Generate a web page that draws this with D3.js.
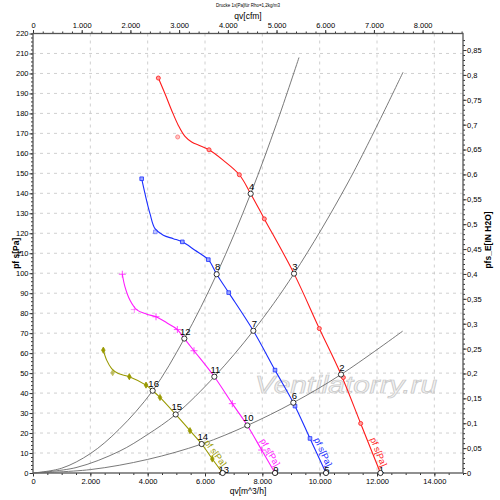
<!DOCTYPE html>
<html>
<head>
<meta charset="utf-8">
<script src="https://cdn.jsdelivr.net/npm/d3@7"></script>
<style>
    body { margin: 0; background: #fff; }
    text { font-family: "Liberation Sans", Arial, sans-serif; }
</style>
</head>
<body>
<div id="chart"></div>
<script>
/* * * * * * * * * * * * * *
 *   fan curve data        *
 * * * * * * * * * * * * * */

// tick labels
const qvTicks = [0, 2000, 4000, 6000, 8000, 10000, 12000, 14000];
const cfmTicks = [0, 1000, 2000, 3000, 4000, 5000, 6000, 7000, 8000];
const paTicks = [0, 10, 20, 30, 40, 50, 60, 70, 80, 90, 100, 110, 120, 130, 140, 150, 160, 170, 180, 190, 200, 210, 220];
const inchTicks = [0, 0.05, 0.1, 0.15, 0.2, 0.25, 0.3, 0.35, 0.4, 0.45, 0.5, 0.55, 0.6, 0.65, 0.7, 0.75, 0.8, 0.85];

// fan curves (line) qv [m^3/h], pf s [Pa]
const redLineQv = [4372, 4605, 4838, 5070, 5302, 5535, 5826, 6140, 6640, 7198, 7593, 8070, 9105, 9988, 10744, 11430, 12120];
const redLinePa = [197.7, 189.8, 181.5, 174, 168.5, 165.7, 163.8, 161.8, 156.5, 149.3, 139.8, 127.2, 99.8, 72.3, 49.3, 24.8, 0];
const blueLineQv = [3791, 3907, 4081, 4256, 4546, 4895, 5209, 5651, 6116, 6407, 6826, 7686, 8442, 9081, 9663, 10221];
const blueLinePa = [147.3, 139.8, 129.8, 122.3, 119, 117.3, 115.7, 111.5, 106.8, 99.5, 90.3, 71.2, 51.5, 35.2, 17.3, 0];
const magentaLineQv = [3116, 3209, 3384, 3617, 3966, 4291, 4663, 5035, 5279, 5616, 6326, 6953, 7477, 7977, 8442];
const magentaLinePa = [99.5, 93.2, 86.5, 81.8, 79.5, 78.2, 75.2, 71.8, 67.3, 61.2, 48.2, 34.7, 23.8, 11.5, 0];
const oliveLineQv = [2453, 2570, 2744, 2977, 3360, 3942, 4174, 4430, 4977, 5477, 5884, 6256, 6616];
const oliveLinePa = [61.5, 56.5, 52.3, 49.8, 48.2, 44, 41.2, 37.8, 29.3, 21.2, 14.5, 7, 0];

// measured points
const redMeasQv = [4372, 5047, 6140, 7198, 8070, 9988, 10826, 11430];
const redMeasPa = [197.7, 168.2, 161.8, 149.3, 127.2, 72.3, 47.8, 24.8];
const blueMeasQv = [3791, 4267, 5209, 6116, 6826, 8442, 9140, 9663];
const blueMeasPa = [147.3, 120.7, 115.7, 106.8, 90.3, 51.5, 33.5, 17.3];
const magentaMeasQv = [3116, 3535, 4291, 5035, 5616, 6953, 7977];
const magentaMeasPa = [99.5, 81.8, 78.2, 71.8, 61.2, 34.7, 11.5];
const oliveMeasQv = [2453, 2779, 3360, 3942, 4430, 5477, 6256];
const oliveMeasPa = [61.5, 50.2, 48.2, 44, 37.8, 21.2, 7];

// system curves
const sys1Qv = [0, 1000, 2000, 3000, 4174, 5279, 6407, 7593, 8500, 9279];
const sys1Pa = [0, 2.4, 9.7, 21.8, 41.2, 67.3, 99.5, 139.8, 175, 208];
const sys2Qv = [0, 1500, 3000, 4000, 4977, 6326, 7686, 9105, 11000, 12907];
const sys2Pa = [0, 2.7, 10.8, 19.3, 29.3, 48.2, 71.2, 99.8, 145.7, 200.6];
const sys3Qv = [0, 2000, 4000, 5884, 7477, 9081, 10744, 12895];
const sys3Pa = [0, 1.7, 6.8, 14.5, 23.8, 35.2, 49.3, 71];

// operating points
const opLabels = ['1', '2', '3', '4', '5', '6', '7', '8', '9', '10', '11', '12', '13', '14', '15', '16'];
const opQv = [12120, 10744, 9105, 7593, 10221, 9081, 7686, 6407, 8442, 7477, 6326, 5279, 6616, 5884, 4977, 4174];
const opPa = [0, 49.3, 99.8, 139.8, 0, 35.2, 71.2, 99.5, 0, 23.8, 48.2, 67.3, 0, 14.5, 29.3, 41.2];

const zip = (xs, ys) => xs.map((v, i) => ({ qv: v, pa: ys[i] }));


class FanChart {
    constructor(parentElement) {
        this.parentElement = parentElement;
        this.initVis();
    }

    initVis() {
        let vis = this;

        vis.box = { left: 33, right: 463, top: 33.5, bottom: 473 };

        vis.svg = d3.select('#' + vis.parentElement)
            .append('svg')
            .attr('width', 500)
            .attr('height', 500);

        vis.x = d3.scaleLinear().domain([0, 15000]).range([vis.box.left, vis.box.right]);
        vis.y = d3.scaleLinear().domain([0, 220]).range([vis.box.bottom, vis.box.top]);
        // secondary units: 1 cfm = 1.69901 m^3/h, 1 in H2O = 249.089 Pa
        vis.xTop = d3.scaleLinear().domain([0, 15000 / 1.69901]).range(vis.x.range());
        vis.yRight = d3.scaleLinear().domain([0, 220 / 249.089]).range(vis.y.range());

        vis.locale = d3.formatLocale({ decimal: ',', thousands: '.', grouping: [3], currency: ['', ''] });

        vis.line = d3.line()
            .x(d => vis.x(d.qv))
            .y(d => vis.y(d.pa))
            .curve(d3.curveCatmullRom);

        vis.drawGrid();
        vis.drawWatermark();
        vis.drawAxes();
        vis.drawCurves();
        vis.drawTitles();
    }

    drawGrid() {
        let vis = this;
        let g = vis.svg.append('g').attr('class', 'grid')
            .attr('stroke', '#c4c4c4').attr('stroke-width', 0.8).attr('stroke-dasharray', '3,4');

        g.selectAll('.hgrid').data(paTicks.slice(1, -1)).enter()
            .append('line')
            .attr('x1', vis.box.left).attr('x2', vis.box.right)
            .attr('y1', d => vis.y(d)).attr('y2', d => vis.y(d));

        g.selectAll('.vgrid').data(qvTicks.slice(1)).enter()
            .append('line')
            .attr('y1', vis.box.top).attr('y2', vis.box.bottom)
            .attr('x1', d => vis.x(d)).attr('x2', d => vis.x(d));
    }

    drawWatermark() {
        let vis = this;
        vis.svg.append('text')
            .attr('x', 255).attr('y', 393)
            .attr('font-size', 23)
            .attr('font-style', 'italic')
            .attr('textLength', 182)
            .attr('lengthAdjust', 'spacingAndGlyphs')
            .attr('fill', '#f2f2f2')
            .attr('stroke', '#c8c8c8')
            .attr('stroke-width', 0.7)
            .text('Ventilatorry.ru');
    }

    styleAxis(g) {
        g.select('.domain').remove();
        g.selectAll('.tick line').attr('stroke', '#333');
        g.selectAll('.tick text').attr('font-size', 7.5).attr('fill', '#000')
            .attr('font-family', '"Liberation Sans", Arial, sans-serif');
    }

    drawAxes() {
        let vis = this;
        const fmtThousand = vis.locale.format(',');
        const fmtInch = vis.locale.format('.2~f');

        // minor ticks
        const minor = (axis, values) => vis.svg.append('g')
            .call(axis.tickValues(values).tickSize(2).tickFormat(''))
            .call(g => vis.styleAxis(g));

        minor(d3.axisLeft(vis.y), d3.range(0, 221, 2)).attr('transform', `translate(${vis.box.left},0)`);
        minor(d3.axisRight(vis.yRight), d3.range(0, 0.88, 0.01)).attr('transform', `translate(${vis.box.right},0)`);
        minor(d3.axisBottom(vis.x), d3.range(0, 15001, 500)).attr('transform', `translate(0,${vis.box.bottom})`);
        minor(d3.axisTop(vis.xTop), d3.range(0, 8801, 200)).attr('transform', `translate(0,${vis.box.top})`);

        vis.svg.append('g')
            .attr('transform', `translate(${vis.box.left},0)`)
            .call(d3.axisLeft(vis.y).tickValues(paTicks).tickSize(3.5).tickPadding(1))
            .call(g => vis.styleAxis(g));

        vis.svg.append('g')
            .attr('transform', `translate(${vis.box.right},0)`)
            .call(d3.axisRight(vis.yRight).tickValues(inchTicks).tickSize(3.5).tickPadding(0.5).tickFormat(fmtInch))
            .call(g => vis.styleAxis(g));

        vis.svg.append('g')
            .attr('transform', `translate(0,${vis.box.bottom})`)
            .call(d3.axisBottom(vis.x).tickValues(qvTicks).tickSize(3.5).tickPadding(2.5).tickFormat(fmtThousand))
            .call(g => vis.styleAxis(g));

        vis.svg.append('g')
            .attr('transform', `translate(0,${vis.box.top})`)
            .call(d3.axisTop(vis.xTop).tickValues(cfmTicks).tickSize(3.5).tickPadding(2.5).tickFormat(fmtThousand))
            .call(g => vis.styleAxis(g));

        // frame
        vis.svg.append('rect')
            .attr('x', vis.box.left).attr('y', vis.box.top)
            .attr('width', vis.box.right - vis.box.left)
            .attr('height', vis.box.bottom - vis.box.top)
            .attr('fill', 'none')
            .attr('stroke', '#555')
            .attr('stroke-width', 1.3);
    }

    drawCurves() {
        let vis = this;

        const systems = [zip(sys1Qv, sys1Pa), zip(sys2Qv, sys2Pa), zip(sys3Qv, sys3Pa)];
        vis.svg.append('g').selectAll('.sys').data(systems).enter()
            .append('path')
            .attr('class', 'sys')
            .attr('d', vis.line)
            .attr('fill', 'none')
            .attr('stroke', '#6a6a6a')
            .attr('stroke-width', 0.9);

        const fans = [
            { line: zip(redLineQv, redLinePa), meas: zip(redMeasQv, redMeasPa), color: '#ff1a1a', fill: '#ff9c9c', sym: d3.symbolCircle, size: 13 },
            { line: zip(blueLineQv, blueLinePa), meas: zip(blueMeasQv, blueMeasPa), color: '#1a2eff', fill: '#9ca6ff', sym: d3.symbolSquare, size: 13 },
            { line: zip(magentaLineQv, magentaLinePa), meas: zip(magentaMeasQv, magentaMeasPa), color: '#ff1aff', fill: 'none', sym: d3.symbolPlus || d3.symbolCross, size: 18 },
            { line: zip(oliveLineQv, oliveLinePa), meas: zip(oliveMeasQv, oliveMeasPa), color: '#999900', fill: '#999900', sym: d3.symbolDiamond, size: 11 }
        ];

        fans.forEach(f => {
            vis.svg.append('path')
                .datum(f.line)
                .attr('d', vis.line)
                .attr('fill', 'none')
                .attr('stroke', f.color)
                .attr('stroke-width', 1.1);

            vis.svg.append('g').selectAll('.meas').data(f.meas).enter()
                .append('path')
                .attr('class', 'meas')
                .attr('transform', d => `translate(${vis.x(d.qv)},${vis.y(d.pa)})`)
                .attr('d', d3.symbol().type(f.sym).size(f.size))
                .attr('fill', f.fill)
                .attr('stroke', f.color)
                .attr('stroke-width', 0.8)
                .attr('opacity', (d, i) => i === 1 ? 0.6 : 1);

            // curve caption along the lower end of the line
            let n = f.line.length;
            let p1 = [vis.x(f.line[n - 2].qv), vis.y(f.line[n - 2].pa)];
            let p2 = [vis.x(f.line[n - 1].qv), vis.y(f.line[n - 1].pa)];
            let len = Math.hypot(p2[0] - p1[0], p2[1] - p1[1]);
            let dir = [(p2[0] - p1[0]) / len, (p2[1] - p1[1]) / len];
            let nrm = [dir[1], -dir[0]];
            let ang = Math.atan2(dir[1], dir[0]) * 180 / Math.PI;
            let ax = p2[0] - dir[0] * 5 + nrm[0] * 3;
            let ay = p2[1] - dir[1] * 5 + nrm[1] * 3;
            vis.svg.append('text')
                .attr('transform', `translate(${ax},${ay}) rotate(${ang})`)
                .attr('text-anchor', 'end')
                .attr('font-size', 9)
                .attr('fill', f.color)
                .text('pf s[Pa]');
        });

        // operating points
        const ops = opLabels.map((l, i) => ({ label: l, qv: opQv[i], pa: opPa[i] }));
        let og = vis.svg.append('g').selectAll('.op').data(ops).enter().append('g')
            .attr('class', 'op')
            .attr('transform', d => `translate(${vis.x(d.qv)},${vis.y(d.pa)})`);

        og.append('text')
            .attr('x', 1)
            .attr('y', d => d.pa > 0 ? -4 : -0.5)
            .attr('text-anchor', 'middle')
            .attr('font-size', 9.5)
            .attr('fill', '#000')
            .text(d => d.label);

        og.append('circle')
            .attr('r', 2.6)
            .attr('fill', '#fff')
            .attr('stroke', '#000')
            .attr('stroke-width', 0.8);
    }

    drawTitles() {
        let vis = this;
        let cx = (vis.box.left + vis.box.right) / 2;

        vis.svg.append('text')
            .attr('x', cx).attr('y', 7)
            .attr('text-anchor', 'middle')
            .attr('font-size', 4.5)
            .text('Drucke 1x[Pa]für Rho=1,2kg/m3');

        vis.svg.append('text')
            .attr('x', cx).attr('y', 19)
            .attr('text-anchor', 'middle')
            .attr('font-size', 8.5)
            .text('qv[cfm]');

        vis.svg.append('text')
            .attr('x', cx).attr('y', 494)
            .attr('text-anchor', 'middle')
            .attr('font-size', 8.5)
            .text('qv[m^3/h]');

        vis.svg.append('text')
            .attr('transform', `translate(19,${(vis.box.top + vis.box.bottom) / 2}) rotate(-90)`)
            .attr('text-anchor', 'middle')
            .attr('font-size', 8.5)
            .attr('font-weight', 'bold')
            .text('pf s[Pa]');

        vis.svg.append('text')
            .attr('transform', `translate(491,240) rotate(-90)`)
            .attr('text-anchor', 'middle')
            .attr('font-size', 8.5)
            .attr('font-weight', 'bold')
            .text('pfs_E[IN H2O]');
    }
}

new FanChart('chart');
</script>
</body>
</html>
